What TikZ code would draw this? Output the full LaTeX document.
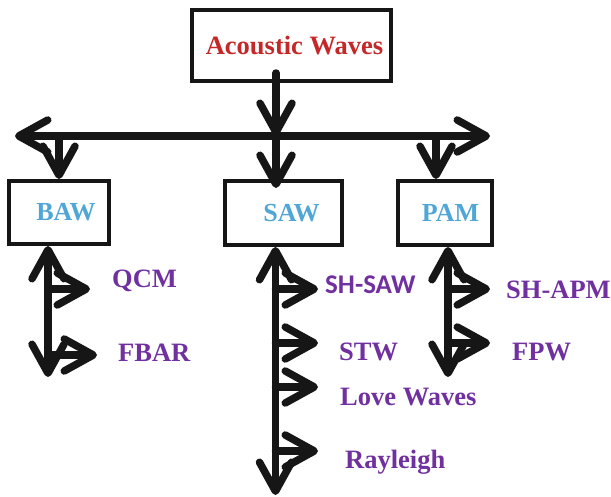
\documentclass[tikz,border=0pt]{standalone}
\usepackage{fontspec}
\setmainfont{Liberation Serif}
\newfontfamily\calibrifont{Carlito}
\usetikzlibrary{arrows.meta}
\definecolor{titlered}{RGB}{196,40,40}
\definecolor{boxblue}{RGB}{80,166,214}
\definecolor{leafpurple}{RGB}{112,48,160}
\definecolor{ink}{RGB}{22,22,22}
\begin{document}
\begin{tikzpicture}[x=1pt,y=-1pt,
  box/.style={draw=ink, line width=4pt, rectangle, inner sep=0pt,
    font=\fontsize{26}{30}\selectfont\bfseries},
  conn/.style={draw=ink, line width=7.5pt, line cap=round},
  barb/.style={arrows={-{Straight Barb[length=29pt,width=32pt,round]}}},
  dbl/.style={arrows={{Straight Barb[length=29pt,width=32pt,round]}-{Straight Barb[length=29pt,width=32pt,round]}}},
  leaf/.style={text=leafpurple, anchor=base west, inner sep=0pt,
    font=\fontsize{26.5}{30}\selectfont\bfseries},
  leafsans/.style={leaf, font=\calibrifont\fontsize{27}{30}\selectfont\bfseries},
]
\useasboundingbox (0,0) rectangle (611,496);

% boxes
\node[box, text=titlered, minimum width=199pt, minimum height=71pt] (top) at (291.5,45.5) {\hspace*{6pt}\fontsize{26.5}{30}\selectfont Acoustic Waves};
\node[box, text=boxblue, minimum width=100pt, minimum height=63pt] (baw) at (59,212.5) {\hspace*{14pt}BAW};
\node[box, text=boxblue, minimum width=117pt, minimum height=64pt] (saw) at (283.5,213) {\hspace*{16pt}\raisebox{-4.5pt}{SAW}};
\node[box, text=boxblue, minimum width=94pt, minimum height=64pt] (pam) at (445,213) {\hspace*{11pt}PAM};

% hub line
\coordinate (hub) at (276,136);
\coordinate (hl) at (15,136);
\coordinate (hr) at (490,136);
\coordinate (pamx) at (436,136);

\draw[conn, barb] ([yshift=10pt]top.south -| hub) -- (hub);
\draw[conn, dbl] (hl) -- (hr);
\draw[conn, barb] (baw.north |- hub) -- (baw.north);
\draw[conn, barb] (hub) -- ([yshift=-9pt]saw.north -| hub);
\draw[conn, barb] (pamx) -- (pamx |- pam.north);

% vertical stems
\coordinate (bawend) at (48,377);
\coordinate (sawend) at (275.5,495);
\coordinate (pamend) at (448,377);
\draw[conn, dbl] (baw.south -| bawend) -- (bawend);
\draw[conn, dbl] (saw.south -| sawend) -- (sawend);
\draw[conn, dbl] (pam.south -| pamend) -- (pamend);

% branch tips
\coordinate (qcmtip) at (90,289);
\coordinate (fbartip) at (97,355);
\coordinate (shsawtip) at (318,289);
\coordinate (stwtip) at (318,343);
\coordinate (lovetip) at (318,387);
\coordinate (raytip) at (318,451);
\coordinate (shapmtip) at (490,289);
\coordinate (fpwtip) at (490,343);

\draw[conn, barb] (qcmtip -| bawend) -- (qcmtip);
\draw[conn, barb] (fbartip -| bawend) -- (fbartip);
\draw[conn, barb] (shsawtip -| sawend) -- (shsawtip);
\draw[conn, barb] (stwtip -| sawend) -- (stwtip);
\draw[conn, barb] (lovetip -| sawend) -- (lovetip);
\draw[conn, barb] (raytip -| sawend) -- (raytip);
\draw[conn, barb] (shapmtip -| pamend) -- (shapmtip);
\draw[conn, barb] (fpwtip -| pamend) -- (fpwtip);

% labels
\node[leaf] (qcm) at (112,287) {QCM};
\node[leaf] (fbar) at (118,361) {FBAR};
\node[leafsans] (shsaw) at (325,293) {SH-SAW};
\node[leaf] (stw) at (339,360) {STW};
\node[leaf] (love) at (340,405) {Love Waves};
\node[leaf] (ray) at (345,468) {Rayleigh};
\node[leaf] (shapm) at (506,298) {SH-APM};
\node[leaf] (fpw) at (512,360) {FPW};
\end{tikzpicture}
\end{document}
